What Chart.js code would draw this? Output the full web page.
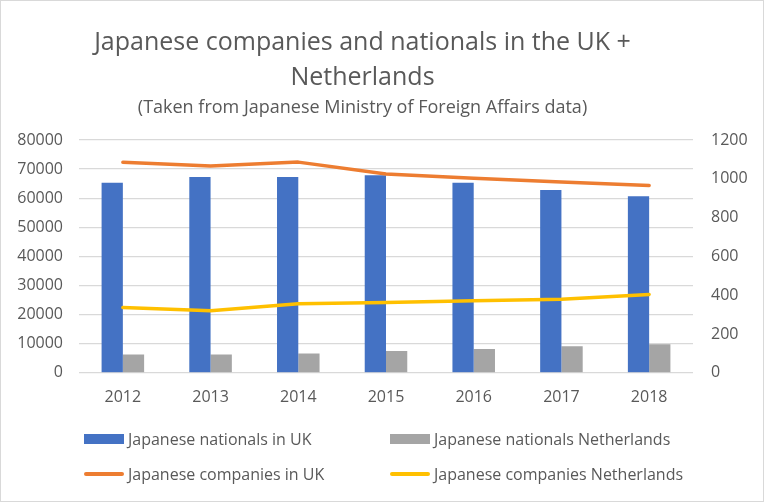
<!DOCTYPE html>
<html>
<head>
<meta charset="utf-8">
<script src="https://cdn.jsdelivr.net/npm/chart.js@4.4.1/dist/chart.umd.min.js"></script>
<style>
  html, body { margin: 0; padding: 0; background: #fff; }
  #wrap { position: relative; width: 764px; height: 502px; font-family: 'Open Sans', sans-serif; }
  #chart { position: absolute; left: 0; top: 0; }
  #frame { position: absolute; left: 0; top: 0; right: 0; bottom: 0; border: 1px solid #d9d9d9; pointer-events: none; }
  .item { position: absolute; display: flex; align-items: center; height: 22px; font-size: 16px; color: #595959; white-space: nowrap; }
  .swatch { width: 40px; margin-right: 4px; }
</style>
</head>
<body>
<div id="wrap">
  <canvas id="chart" width="764" height="502"></canvas>
  <div id="legend"></div>
  <div id="frame"></div>
</div>
<script>
// values
const years = ['2012', '2013', '2014', '2015', '2016', '2017', '2018'];
const nationalsUK = [65300, 67300, 67300, 67900, 65300, 62800, 60700];
const nationalsNL = [6300, 6300, 6650, 7450, 8150, 9150, 9850];
const companiesUK = [1085, 1066, 1086, 1025, 1003, 984, 966];
const companiesNL = [336, 320, 356, 362, 372, 379, 404];

const leftTicks = { min: 0, max: 80000, step: 10000 };
const rightTicks = { min: 0, max: 1200, step: 200 };

const grey = '#595959';
Chart.defaults.font.family = "'Open Sans', sans-serif";
Chart.defaults.font.size = 16;
Chart.defaults.color = grey;

// Excel centres the title a little left of the canvas middle
const shiftTitles = {
    id: 'shiftTitles',
    afterLayout(chart) {
        chart.boxes.forEach(b => {
            if (!b.axis && b.options && b.options.position === 'top') {
                b.left -= 22;
                b.right -= 22;
            }
        });
    }
};

const lineStyle = {
    type: 'line',
    yAxisID: 'y1',
    borderWidth: 3.5,
    pointRadius: 0,
    tension: 0,
    borderCapStyle: 'round',
    borderJoinStyle: 'round',
    order: 1
};

const plain = v => String(v);

const chart = new Chart(document.getElementById('chart'), {
    type: 'bar',
    data: {
        labels: years,
        datasets: [
            { label: 'Japanese nationals in UK', data: nationalsUK, backgroundColor: '#4472c4', yAxisID: 'y', order: 2,
              categoryPercentage: 0.485, barPercentage: 1 },
            { label: 'Japanese nationals Netherlands', data: nationalsNL, backgroundColor: '#a5a5a5', yAxisID: 'y', order: 2,
              categoryPercentage: 0.485, barPercentage: 1 },
            Object.assign({ label: 'Japanese companies in UK', data: companiesUK, borderColor: '#ed7d31', backgroundColor: '#ed7d31' }, lineStyle),
            Object.assign({ label: 'Japanese companies Netherlands', data: companiesNL, borderColor: '#ffc000', backgroundColor: '#ffc000' }, lineStyle)
        ]
    },
    options: {
        responsive: false,
        animation: false,
        layout: { padding: { left: 15, right: 10, top: 0, bottom: 80 } },
        plugins: {
            legend: { display: false },
            tooltip: { enabled: false },
            title: {
                display: true,
                text: ['Japanese companies and nationals in the UK +', 'Netherlands'],
                color: grey,
                font: { size: 25, weight: 'normal', lineHeight: 1.4 },
                padding: { top: 25, bottom: 0 }
            },
            subtitle: {
                display: true,
                text: '(Taken from Japanese Ministry of Foreign Affairs data)',
                color: grey,
                font: { size: 18, weight: 'normal', lineHeight: 22 / 18 },
                padding: { top: 2, bottom: 21 }
            }
        },
        scales: {
            x: {
                grid: { display: false, drawTicks: false },
                border: { display: false },
                ticks: { padding: 15 }
            },
            y: {
                position: 'left',
                min: leftTicks.min,
                max: leftTicks.max,
                ticks: { stepSize: leftTicks.step, padding: 16, callback: plain },
                grid: { color: '#d9d9d9', lineWidth: 1.3, drawTicks: false },
                border: { display: false },
                afterFit: s => { s.width = 64; }
            },
            y1: {
                position: 'right',
                min: rightTicks.min,
                max: rightTicks.max,
                ticks: { stepSize: rightTicks.step, padding: 18, callback: plain },
                grid: { drawOnChartArea: false, drawTicks: false },
                border: { display: false },
                afterFit: s => { s.width = 61; }
            }
        }
    },
    plugins: [shiftTitles]
});

// two-column legend, laid out like the Excel one
const legendEl = document.getElementById('legend');
const colX = [84, 390];
const rowY = [439, 474];
chart.data.datasets.forEach((ds, i) => {
    const item = document.createElement('div');
    item.className = 'item';
    item.style.left = colX[i % 2] + 'px';
    item.style.top = (rowY[Math.floor(i / 2)] - 11) + 'px';
    const sw = document.createElement('span');
    sw.className = 'swatch';
    if (ds.type === 'line') {
        sw.style.height = '4px';
        sw.style.borderRadius = '2px';
        sw.style.background = ds.borderColor;
    } else {
        sw.style.height = '10px';
        sw.style.background = ds.backgroundColor;
    }
    const txt = document.createElement('span');
    txt.textContent = ds.label;
    item.appendChild(sw);
    item.appendChild(txt);
    legendEl.appendChild(item);
});
</script>
</body>
</html>
